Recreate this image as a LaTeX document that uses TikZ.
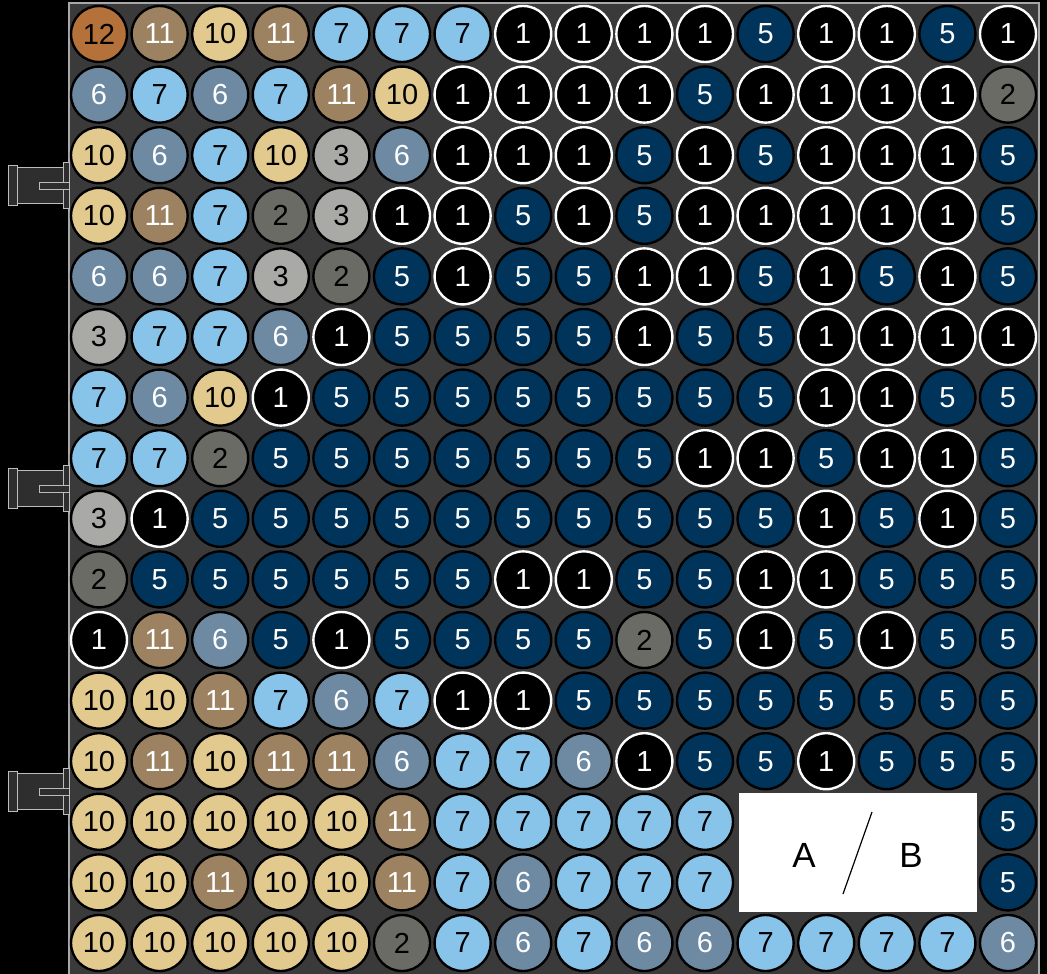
\documentclass[tikz,border=0pt]{standalone}
\usepackage{fontspec}
\setmainfont{Liberation Sans}
\definecolor{boardbg}{HTML}{3A3A3A}
\definecolor{boardrim}{HTML}{A8A8A8}
\definecolor{cTwo}{HTML}{6B6B66}
\definecolor{cThree}{HTML}{A9A9A6}
\definecolor{cFive}{HTML}{00345A}
\definecolor{cSix}{HTML}{6E8AA3}
\definecolor{cSeven}{HTML}{88C4EA}
\definecolor{cTen}{HTML}{E2CA8F}
\definecolor{cEleven}{HTML}{9C8260}
\definecolor{cTwelve}{HTML}{B5713A}
\definecolor{connfill}{HTML}{2E2E2E}
\definecolor{connrim}{HTML}{BDBDBD}
\tikzset{
  cell/.style={circle,minimum size=56pt,inner sep=0pt,line width=2.4pt,draw=black,
    font=\fontsize{29}{29}\selectfont},
  p1/.style={cell,fill=black,draw=white,text=white},
  p2/.style={cell,fill=cTwo,text=black},
  p3/.style={cell,fill=cThree,text=black},
  p5/.style={cell,fill=cFive,text=white},
  p6/.style={cell,fill=cSix,text=white},
  p7/.style={cell,fill=cSeven,text=black},
  p10/.style={cell,fill=cTen,text=black},
  p11/.style={cell,fill=cEleven,text=white},
  p12/.style={cell,fill=cTwelve,text=black},
  connpart/.style={fill=connfill,draw=connrim,line width=0.9pt},
  legendtxt/.style={font=\fontsize{35}{35}\selectfont,text=black,inner sep=0pt}
}
\begin{document}
\begin{tikzpicture}[x=1pt,y=-1pt]
\useasboundingbox (0,0) rectangle (1047,974);
\fill[black] (0,0) rectangle (1047,974);
% board
\clip (0,0) rectangle (1047,974);
\draw[fill=boardbg,draw=boardrim,line width=1.5pt] (69,3) rectangle (1039,980);
% connectors on the left edge
\foreach \yc [count=\k] in {185.6,488.7,791.8}{
  \draw[connpart] (17,\yc-18) rectangle (63,\yc+18);
  \draw[connpart] (8,\yc-20) rectangle (17,\yc+20);
  \draw[connpart] (63,\yc-23) rectangle (69,\yc+23);
  \draw[connpart] (39,\yc-3.5) rectangle (69,\yc+3.5);
}
% grid of pieces (0 = covered by legend)
\foreach \row [count=\r from 0] in {
  {12,11,10,11,7,7,7,1,1,1,1,5,1,1,5,1},
  {6,7,6,7,11,10,1,1,1,1,5,1,1,1,1,2},
  {10,6,7,10,3,6,1,1,1,5,1,5,1,1,1,5},
  {10,11,7,2,3,1,1,5,1,5,1,1,1,1,1,5},
  {6,6,7,3,2,5,1,5,5,1,1,5,1,5,1,5},
  {3,7,7,6,1,5,5,5,5,1,5,5,1,1,1,1},
  {7,6,10,1,5,5,5,5,5,5,5,5,1,1,5,5},
  {7,7,2,5,5,5,5,5,5,5,1,1,5,1,1,5},
  {3,1,5,5,5,5,5,5,5,5,5,5,1,5,1,5},
  {2,5,5,5,5,5,5,1,1,5,5,1,1,5,5,5},
  {1,11,6,5,1,5,5,5,5,2,5,1,5,1,5,5},
  {10,10,11,7,6,7,1,1,5,5,5,5,5,5,5,5},
  {10,11,10,11,11,6,7,7,6,1,5,5,1,5,5,5},
  {10,10,10,10,10,11,7,7,7,7,7,0,0,0,0,5},
  {10,10,11,10,10,11,7,6,7,7,7,0,0,0,0,5},
  {10,10,10,10,10,2,7,6,7,6,6,7,7,7,7,6}}{
  \foreach \v [count=\c from 0] in \row {
    \ifnum\v>0
      \node[p\v] (n-\r-\c) at ({99+60.6*\c},{34+60.6*\r}) {\v};
    \fi
  }
}
% legend box
\node[fill=white,draw=none,minimum width=238pt,minimum height=119pt,inner sep=0pt]
  (legend) at (858,852.5) {};
\node[legendtxt] (A) at (804,855) {A};
\node[legendtxt] (B) at (911,855) {B};
\coordinate (slashtop) at (872,812);
\coordinate (slashbot) at (843,894);
\draw[black,line width=1.2pt] (slashtop) -- (slashbot);
\end{tikzpicture}
\end{document}
